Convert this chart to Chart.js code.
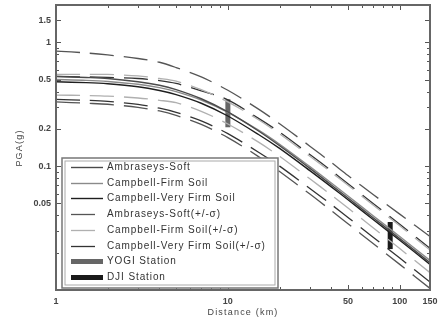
<!DOCTYPE html>
<html>
<head>
<meta charset="utf-8">
<script src="https://cdn.jsdelivr.net/npm/chart.js@4.4.1/dist/chart.umd.min.js"></script>
<style>
  html, body { margin: 0; padding: 0; background: #fff; }
  #wrap { width: 438px; height: 325px; }
</style>
</head>
<body>
<div id="wrap"><canvas id="myChart"></canvas></div>
<script>
// distance (km) and PGA (g)
const distances = [1, 1.5, 2, 3, 4, 5, 7, 10, 15, 20, 30, 40, 50, 70, 100, 150];

const ambSoft     = [0.53, 0.52, 0.51, 0.48, 0.45, 0.415, 0.35, 0.274, 0.193, 0.146, 0.096, 0.0705, 0.0553, 0.0383, 0.026, 0.0166];
const campFirm    = [0.50, 0.493, 0.483, 0.458, 0.43, 0.40, 0.342, 0.272, 0.196, 0.150, 0.099, 0.0731, 0.0574, 0.0398, 0.027, 0.0173];
const campVFirm   = [0.48, 0.472, 0.462, 0.437, 0.408, 0.378, 0.322, 0.254, 0.181, 0.139, 0.092, 0.068, 0.0535, 0.0371, 0.0252, 0.0161];

const ambSoftHi   = [0.85, 0.82, 0.79, 0.74, 0.69, 0.625, 0.525, 0.41, 0.29, 0.22, 0.145, 0.107, 0.084, 0.059, 0.041, 0.027];
const ambSoftLo   = [0.33, 0.322, 0.316, 0.298, 0.279, 0.257, 0.217, 0.17, 0.12, 0.0905, 0.0595, 0.0437, 0.0343, 0.0237, 0.0161, 0.0103];
const campFirmHi  = [0.55, 0.55, 0.55, 0.535, 0.51, 0.485, 0.415, 0.33, 0.238, 0.182, 0.12, 0.089, 0.07, 0.0485, 0.033, 0.021];
const campFirmLo  = [0.375, 0.372, 0.368, 0.355, 0.34, 0.325, 0.277, 0.219, 0.157, 0.12, 0.079, 0.0585, 0.046, 0.0318, 0.0216, 0.0138];
const campVFirmHi = [0.53, 0.525, 0.52, 0.51, 0.49, 0.465, 0.405, 0.343, 0.244, 0.188, 0.124, 0.092, 0.072, 0.050, 0.034, 0.0217];
const campVFirmLo = [0.346, 0.34, 0.333, 0.315, 0.294, 0.272, 0.232, 0.183, 0.13, 0.1, 0.066, 0.049, 0.0385, 0.0267, 0.0181, 0.0116];

// recorded stations: distance and PGA range
const yogiDist = [10, 10];
const yogiPga  = [0.206, 0.347];
const djiDist  = [88, 88];
const djiPga   = [0.0214, 0.0354];

const xTickLabels = [1, 10, 50, 100, 150];
const xMinorTicks = [2, 3, 4, 5, 6, 7, 8, 9, 20, 30, 40, 60, 70, 80, 90];
const yTickLabels = [0.05, 0.1, 0.2, 0.5, 1, 1.5];
const yMinorTicks = [0.02, 0.03, 0.04, 0.06, 0.07, 0.08, 0.09, 0.3, 0.4, 0.6, 0.7, 0.8, 0.9, 2];

function pts(xs, ys) {
  return xs.map((x, i) => ({ x: x, y: ys[i] }));
}

const DASH = [24, 10];

const datasets = [
  { label: "Ambraseys-Soft", data: pts(distances, ambSoft), borderColor: "#4a4a4a", borderWidth: 1.4 },
  { label: "Campbell-Firm Soil", data: pts(distances, campFirm), borderColor: "#8a8a8a", borderWidth: 1.4 },
  { label: "Campbell-Very Firm Soil", data: pts(distances, campVFirm), borderColor: "#1e1e1e", borderWidth: 1.4 },
  { label: "Ambraseys-Soft(+/-σ)", data: pts(distances, ambSoftHi), borderColor: "#555", borderWidth: 1.3, borderDash: DASH },
  { label: "Ambraseys-Soft(+/-σ)", data: pts(distances, ambSoftLo), borderColor: "#555", borderWidth: 1.3, borderDash: DASH, inLegend: false },
  { label: "Campbell-Firm Soil(+/-σ)", data: pts(distances, campFirmHi), borderColor: "#b0b0b0", borderWidth: 1.3, borderDash: DASH },
  { label: "Campbell-Firm Soil(+/-σ)", data: pts(distances, campFirmLo), borderColor: "#b0b0b0", borderWidth: 1.3, borderDash: DASH, inLegend: false },
  { label: "Campbell-Very Firm Soil(+/-σ)", data: pts(distances, campVFirmHi), borderColor: "#333", borderWidth: 1.3, borderDash: DASH },
  { label: "Campbell-Very Firm Soil(+/-σ)", data: pts(distances, campVFirmLo), borderColor: "#333", borderWidth: 1.3, borderDash: DASH, inLegend: false },
  { label: "YOGI Station", data: pts(yogiDist, yogiPga), borderColor: "#666", borderWidth: 5 },
  { label: "DJI Station", data: pts(djiDist, djiPga), borderColor: "#1a1a1a", borderWidth: 5 }
];

const FONT = "Liberation Sans, Arial, sans-serif";

const decorPlugin = {
  id: "decor",
  afterDraw(chart) {
    const c = chart.ctx;
    const a = chart.chartArea;
    const xs = chart.scales.x, ys = chart.scales.y;
    c.save();

    // inward tick marks on all four sides
    c.strokeStyle = "#555";
    c.lineWidth = 1;
    function xTick(v, len) {
      const p = Math.round(xs.getPixelForValue(v)) + 0.5;
      c.beginPath();
      c.moveTo(p, a.bottom); c.lineTo(p, a.bottom - len);
      c.moveTo(p, a.top); c.lineTo(p, a.top + len);
      c.stroke();
    }
    function yTick(v, len) {
      const p = Math.round(ys.getPixelForValue(v)) + 0.5;
      c.beginPath();
      c.moveTo(a.left, p); c.lineTo(a.left + len, p);
      c.moveTo(a.right, p); c.lineTo(a.right - len, p);
      c.stroke();
    }
    xTickLabels.forEach(v => xTick(v, 5));
    xMinorTicks.forEach(v => xTick(v, 3));
    yTickLabels.forEach(v => yTick(v, 5));
    yMinorTicks.forEach(v => yTick(v, 3));

    // frame
    c.strokeStyle = "#666";
    c.lineWidth = 2;
    c.strokeRect(a.left, a.top, a.right - a.left, a.bottom - a.top);

    // axis titles
    c.fillStyle = "#444";
    c.font = "9px " + FONT;
    c.letterSpacing = "1.2px";
    c.textAlign = "center";
    c.textBaseline = "middle";
    c.fillText("Distance (km)", 243, 313);
    c.save();
    c.translate(20, 148);
    c.rotate(-Math.PI / 2);
    c.fillText("PGA(g)", 0, 0);
    c.restore();

    // legend box
    const bx = 62, by = 158, bw = 216, bh = 130;
    c.fillStyle = "#fff";
    c.fillRect(bx, by, bw, bh);
    c.strokeStyle = "#777";
    c.lineWidth = 1.5;
    c.strokeRect(bx, by, bw, bh);
    c.strokeStyle = "#aaa";
    c.lineWidth = 1;
    c.strokeRect(bx + 3, by + 3, bw - 6, bh - 6);

    const rows = chart.data.datasets.filter(d => d.inLegend !== false);
    c.font = "10px " + FONT;
    c.letterSpacing = "0.9px";
    c.textAlign = "left";
    rows.forEach((d, i) => {
      const y = Math.round(167 + i * 15.7) + 0.5;
      c.strokeStyle = d.borderColor;
      c.lineWidth = d.borderWidth;
      c.setLineDash(d.borderDash || []);
      c.beginPath();
      c.moveTo(71, y);
      c.lineTo(d.borderDash ? 96 : 103, y);
      c.stroke();
      c.setLineDash([]);
      c.fillStyle = "#333";
      c.fillText(d.label, 107, y);
    });

    c.restore();
  }
};

const ctx = document.getElementById("myChart");

let config = {
  type: "line",
  data: { datasets: datasets },
  options: {
    responsive: true,
    maintainAspectRatio: false,
    animation: false,
    layout: { padding: { left: 0, right: 8, top: 5, bottom: 0 } },
    elements: { point: { radius: 0 }, line: { tension: 0.3, fill: false } },
    plugins: { legend: { display: false }, tooltip: { enabled: false } },
    scales: {
      x: {
        type: "logarithmic",
        min: 1,
        max: 150,
        grid: { display: false, drawTicks: false },
        border: { display: false },
        afterBuildTicks: s => { s.ticks = xTickLabels.map(v => ({ value: v })); },
        afterFit: s => { s.height = 35; s.paddingLeft = 0; s.paddingRight = 0; },
        ticks: {
          autoSkip: false,
          maxRotation: 0,
          padding: 6,
          color: "#444",
          font: { family: FONT, size: 9, weight: "bold" },
          callback: v => String(v)
        }
      },
      y: {
        type: "logarithmic",
        min: 0.01,
        max: 2,
        grid: { display: false, drawTicks: false },
        border: { display: false },
        afterBuildTicks: s => { s.ticks = yTickLabels.map(v => ({ value: v })); },
        afterFit: s => { s.width = 56; s.paddingTop = 0; s.paddingBottom = 0; },
        ticks: {
          autoSkip: false,
          padding: 5,
          color: "#444",
          font: { family: FONT, size: 9, weight: "bold" },
          callback: v => String(v)
        }
      }
    }
  },
  plugins: [decorPlugin]
};

let myChart = new Chart(ctx, config);
</script>
</body>
</html>
